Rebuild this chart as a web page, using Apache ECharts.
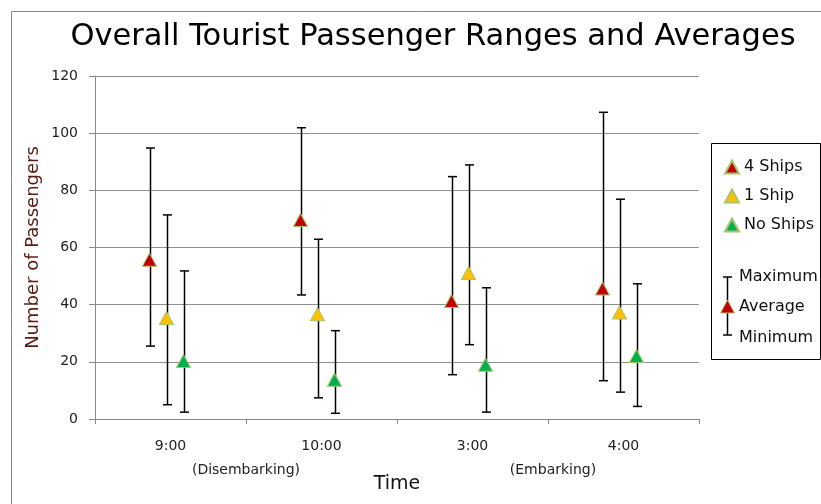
<!DOCTYPE html>
<html>
<head>
<meta charset="utf-8">
<script src="https://cdn.jsdelivr.net/npm/echarts@6/dist/echarts.min.js"></script>
<style>
  html, body { margin: 0; padding: 0; background: #fff; }
  #chart { width: 821px; height: 504px; }
</style>
</head>
<body>
<div id="chart"></div>
<script>
// ---- Data ----
const categories = ['9:00', '10:00', '3:00', '4:00'];
const seriesNames = ['4 Ships', '1 Ship', 'No Ships'];
const avg4Ships   = [55.4, 69.3, 40.9, 45.3];
const max4Ships   = [94.8, 101.9, 84.8, 107.3];
const min4Ships   = [25.5, 43.4, 15.5, 13.4];
const avg1Ship    = [35.0, 36.3, 50.7, 36.9];
const max1Ship    = [71.4, 62.9, 88.9, 76.9];
const min1Ship    = [5.0, 7.4, 26.0, 9.4];
const avgNoShips  = [19.9, 13.4, 18.6, 21.7];
const maxNoShips  = [51.8, 30.9, 45.9, 47.3];
const minNoShips  = [2.4, 2.0, 2.4, 4.4];
const yTicks = [0, 20, 40, 60, 80, 100, 120];
const phaseLabels = ['(Disembarking)', '(Embarking)'];
const legendRangeLabels = ['Maximum', 'Average', 'Minimum'];

const FONT = 'DejaVu Sans';
const colors = ['#C00000', '#FFC000', '#00B050'];
const offsets = [-21, -4, 13];
const avgs = [avg4Ships, avg1Ship, avgNoShips];
const maxs = [max4Ships, max1Ship, maxNoShips];
const mins = [min4Ships, min1Ship, minNoShips];

const chart = echarts.init(document.getElementById('chart'), null, { renderer: 'canvas' });

const series = [];
// error bars
for (let s = 0; s < 3; s++) {
  const off = offsets[s];
  series.push({
    type: 'custom',
    name: seriesNames[s] + ' range',
    z: 2,
    silent: true,
    data: categories.map((c, i) => [i, mins[s][i], maxs[s][i]]),
    renderItem: function (params, api) {
      const lo = api.coord([api.value(0), api.value(1)]);
      const hi = api.coord([api.value(0), api.value(2)]);
      const x = Math.round(lo[0] + off) + 0.5;
      const cap = 4.5;
      const st = { stroke: '#000', lineWidth: 1.5 };
      return {
        type: 'group',
        children: [
          { type: 'line', shape: { x1: x, y1: hi[1], x2: x, y2: lo[1] }, style: st },
          { type: 'line', shape: { x1: x - cap, y1: hi[1], x2: x + cap, y2: hi[1] }, style: st },
          { type: 'line', shape: { x1: x - cap, y1: lo[1], x2: x + cap, y2: lo[1] }, style: st }
        ]
      };
    }
  });
}
// average markers
for (let s = 0; s < 3; s++) {
  series.push({
    type: 'scatter',
    name: seriesNames[s],
    z: 5,
    symbol: 'triangle',
    symbolSize: [14, 13],
    symbolOffset: [offsets[s], -1],
    itemStyle: { color: colors[s], borderColor: '#A8C46C', borderWidth: 1, opacity: 1 },
    data: avgs[s]
  });
}

const option = {
  backgroundColor: '#fff',
  animation: false,
  title: {
    text: 'Overall Tourist Passenger Ranges and Averages',
    left: 428,
    top: 17,
    textAlign: 'center',
    textStyle: { fontFamily: FONT, fontSize: 30.5, fontWeight: 'normal', color: '#000' }
  },
  grid: { left: 95, right: 122, top: 76, bottom: 85, containLabel: false },
  legend: {
    data: seriesNames,
    orient: 'vertical',
    left: 719,
    top: 154,
    itemWidth: 14,
    itemHeight: 13,
    itemGap: 13,
    icon: 'triangle',
    textStyle: { fontFamily: FONT, fontSize: 16, color: '#111' },
    selectedMode: false
  },
  xAxis: {
    type: 'category',
    data: categories,
    boundaryGap: true,
    name: 'Time',
    nameLocation: 'middle',
    nameGap: 56,
    nameMoveOverlap: false,
    nameTextStyle: { fontFamily: FONT, fontSize: 19, color: '#111' },
    axisLine: { lineStyle: { color: '#8a8a8a', width: 1 } },
    axisTick: { show: true, length: 5, lineStyle: { color: '#8a8a8a' } },
    axisLabel: { fontFamily: FONT, fontSize: 14, color: '#222', margin: 20 }
  },
  yAxis: {
    type: 'value',
    min: 0,
    max: 120,
    interval: 20,
    name: 'Number of Passengers',
    nameLocation: 'middle',
    nameGap: 53,
    nameMoveOverlap: false,
    nameTextStyle: { fontFamily: FONT, fontSize: 18, color: '#5a1c10' },
    axisLine: { show: true, lineStyle: { color: '#8a8a8a', width: 1 } },
    axisTick: { show: true, length: 6, lineStyle: { color: '#8a8a8a' } },
    splitLine: { lineStyle: { color: '#8e8e8e', width: 1 } },
    axisLabel: {
      fontFamily: FONT, fontSize: 14, color: '#222', margin: 17,
      formatter: function (v) { return yTicks.indexOf(v) >= 0 ? String(v) : ''; }
    }
  },
  graphic: [
    // chart-area border
    { type: 'rect', shape: { x: 11.5, y: 11.5, width: 900, height: 600 }, style: { fill: 'none', stroke: '#8a8a8a', lineWidth: 1 }, z: -1, silent: true },
    // legend box
    { type: 'rect', shape: { x: 711.5, y: 143.5, width: 109, height: 216 }, style: { fill: 'none', stroke: '#000', lineWidth: 1 }, silent: true },
    // range legend glyph
    { type: 'line', shape: { x1: 727.5, y1: 277, x2: 727.5, y2: 335 }, style: { stroke: '#000', lineWidth: 1.5 }, silent: true },
    { type: 'line', shape: { x1: 723, y1: 277, x2: 732, y2: 277 }, style: { stroke: '#000', lineWidth: 1.5 }, silent: true },
    { type: 'line', shape: { x1: 723, y1: 335, x2: 732, y2: 335 }, style: { stroke: '#000', lineWidth: 1.5 }, silent: true },
    { type: 'polygon', shape: { points: [[727.5, 300], [734.5, 313], [720.5, 313]] }, style: { fill: colors[0], stroke: '#A8C46C', lineWidth: 1 }, silent: true },
    { type: 'text', x: 739, y: 277, style: { text: legendRangeLabels[0], font: '16px "DejaVu Sans"', fill: '#111', verticalAlign: 'middle' }, silent: true },
    { type: 'text', x: 739, y: 307, style: { text: legendRangeLabels[1], font: '16px "DejaVu Sans"', fill: '#111', verticalAlign: 'middle' }, silent: true },
    { type: 'text', x: 739, y: 338, style: { text: legendRangeLabels[2], font: '16px "DejaVu Sans"', fill: '#111', verticalAlign: 'middle' }, silent: true },
    // phase labels under the axis
    { type: 'text', x: 246, y: 470, style: { text: phaseLabels[0], font: '14px "DejaVu Sans"', fill: '#222', align: 'center', verticalAlign: 'middle' }, silent: true },
    { type: 'text', x: 553, y: 470, style: { text: phaseLabels[1], font: '14px "DejaVu Sans"', fill: '#222', align: 'center', verticalAlign: 'middle' }, silent: true }
  ],
  series: series
};
chart.setOption(option);
</script>
</body>
</html>
